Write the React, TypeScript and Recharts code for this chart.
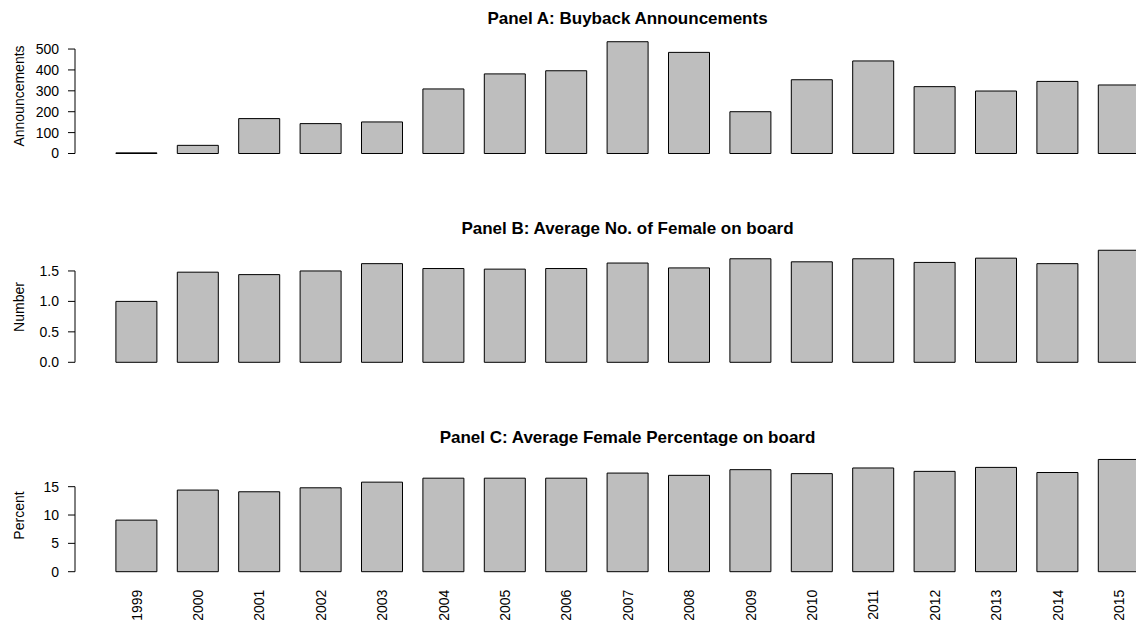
import React from 'react';
import { BarChart, Bar, XAxis, YAxis, ReferenceLine } from 'recharts';

const years = ['1999', '2000', '2001', '2002', '2003', '2004', '2005', '2006', '2007', '2008', '2009', '2010', '2011', '2012', '2013', '2014', '2015'];
const announcements = [3, 39, 167, 143, 151, 309, 381, 396, 535, 484, 200, 353, 443, 320, 299, 345, 328];
const femaleCount = [1.0, 1.48, 1.44, 1.5, 1.62, 1.54, 1.53, 1.54, 1.63, 1.55, 1.7, 1.65, 1.7, 1.64, 1.71, 1.62, 1.84];
const femalePct = [9.1, 14.4, 14.1, 14.8, 15.8, 16.5, 16.5, 16.5, 17.4, 17.0, 18.0, 17.3, 18.3, 17.7, 18.4, 17.5, 19.8];

const ticksA = [0, 100, 200, 300, 400, 500];
const ticksB = [0, 0.5, 1.0, 1.5];
const ticksC = [0, 5, 10, 15];

const titles = ['Panel A: Buyback Announcements', 'Panel B: Average No. of Female on board', 'Panel C: Average Female Percentage on board'];
const yLabels = ['Announcements', 'Number', 'Percent'];

const FONT = '"Liberation Sans", Arial, Helvetica, sans-serif';

const dataA = years.map((year, i) => ({ year, value: announcements[i] }));
const dataB = years.map((year, i) => ({ year, value: femaleCount[i] }));
const dataC = years.map((year, i) => ({ year, value: femalePct[i] }));

const YearTick = (props: any) => {
  const { x, y, payload } = props;
  return (
    <text
      transform={`translate(${x + 5},${y}) rotate(-90)`}
      textAnchor="end"
      fill="#000"
      fontSize={14}
      fontFamily={FONT}
    >
      {payload.value}
    </text>
  );
};

type PanelProps = {
  data: { year: string; value: number }[];
  top: number;
  height: number;
  marginTop: number;
  marginBottom: number;
  domain: [number, number];
  ticks: number[];
  fmt?: (v: number) => string;
  showYears?: boolean;
  xHeight?: number;
};

const Panel = ({ data, top, height, marginTop, marginBottom, domain, ticks, fmt, showYears, xHeight }: PanelProps) => (
  <div style={{ position: 'absolute', left: 0, top }}>
    <BarChart
      width={1150}
      height={height}
      data={data}
      margin={{ top: marginTop, bottom: marginBottom, left: 0, right: 0.3 }}
    >
      {showYears ? (
        <XAxis
          dataKey="year"
          padding={{ left: 30.9, right: 0 }}
          interval={0}
          axisLine={false}
          tickLine={false}
          tickSize={0}
          tickMargin={18}
          height={xHeight}
          tick={<YearTick />}
        />
      ) : (
        <XAxis dataKey="year" padding={{ left: 30.9, right: 0 }} hide />
      )}
      <XAxis xAxisId="n" type="number" domain={[0, 1]} hide />
      <YAxis
        width={75}
        domain={domain}
        ticks={ticks}
        interval={0}
        axisLine={false}
        tickSize={7}
        tickMargin={9}
        tickLine={{ stroke: '#000' }}
        tick={{ fill: '#000', fontSize: 14, fontFamily: FONT }}
        tickFormatter={fmt}
      />
      <ReferenceLine
        xAxisId="n"
        segment={[{ x: 0, y: ticks[0] }, { x: 0, y: ticks[ticks.length - 1] }]}
        stroke="#000"
        strokeWidth={1}
        ifOverflow="visible"
      />
      <Bar dataKey="value" fill="#bebebe" stroke="#000" strokeWidth={1} barSize={41} isAnimationActive={false} />
    </BarChart>
  </div>
);

export default function App() {
  return (
    <div
      style={{
        position: 'absolute',
        left: 0,
        top: 0,
        width: 1136,
        height: 623,
        overflow: 'hidden',
        background: '#fff',
        fontFamily: FONT,
      }}
    >
      <Panel data={dataA} top={0} height={160} marginTop={36.5} marginBottom={6.5} domain={[0, 560]} ticks={ticksA} />
      <Panel
        data={dataB}
        top={200}
        height={170}
        marginTop={46.6}
        marginBottom={7.7}
        domain={[0, 1.9]}
        ticks={ticksB}
        fmt={(v: number) => v.toFixed(1)}
      />
      <Panel
        data={dataC}
        top={420}
        height={203}
        marginTop={35.5}
        marginBottom={0}
        domain={[0, 20.5]}
        ticks={ticksC}
        showYears
        xHeight={51.3}
      />
      <svg width={1136} height={623} style={{ position: 'absolute', left: 0, top: 0, pointerEvents: 'none' }}>
        {titles.map((t, i) => (
          <text
            key={t}
            x={627.5}
            y={24.3 + i * 209.2}
            textAnchor="middle"
            fontWeight="bold"
            fontSize={17}
            fontFamily={FONT}
            fill="#000"
          >
            {t}
          </text>
        ))}
        {yLabels.map((t, i) => (
          <text
            key={t}
            transform={`translate(23.5,${[96, 307, 515.5][i]}) rotate(-90)`}
            textAnchor="middle"
            fontSize={14}
            fontFamily={FONT}
            fill="#000"
          >
            {t}
          </text>
        ))}
      </svg>
    </div>
  );
}
